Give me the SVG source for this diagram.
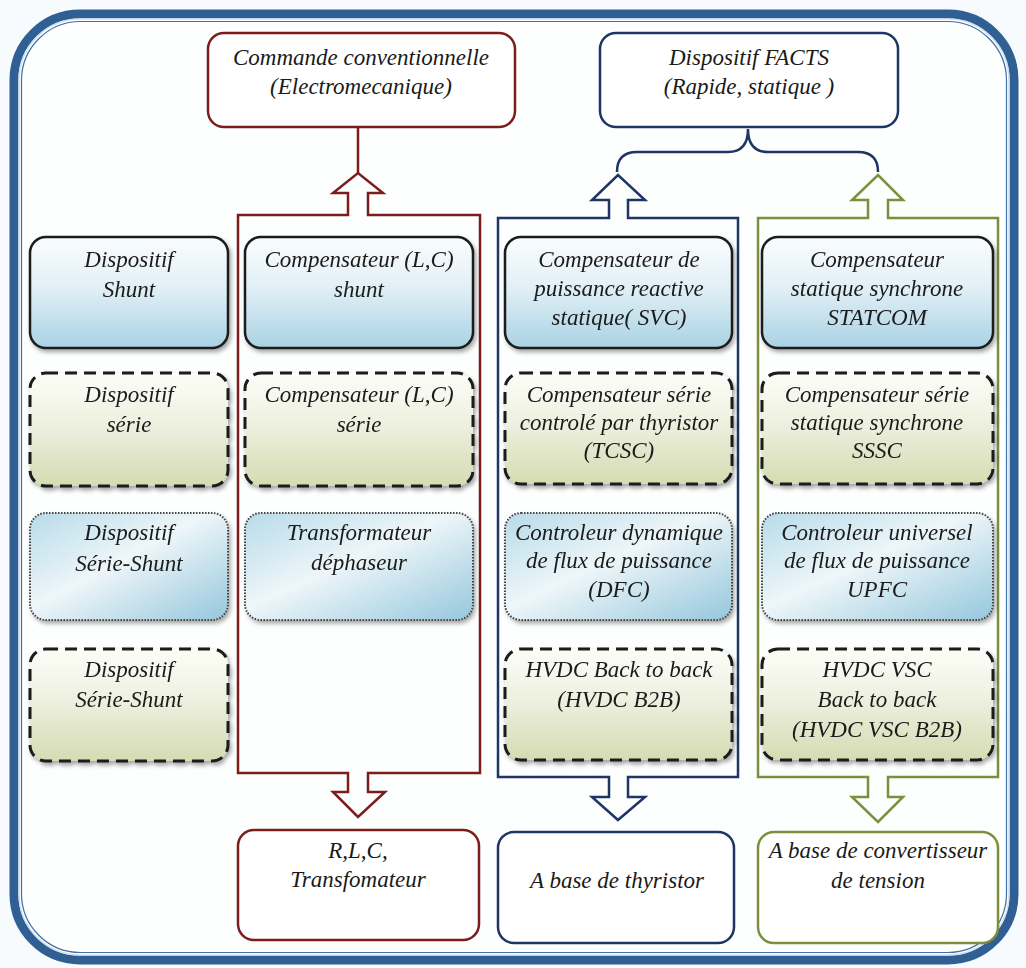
<svg xmlns="http://www.w3.org/2000/svg" width="1026" height="968" viewBox="0 0 1026 968">
<defs>
<linearGradient id="gBlue" x1="0" y1="0" x2="0" y2="1"><stop offset="0" stop-color="#fbfdfe"/><stop offset="0.45" stop-color="#e2f0f6"/><stop offset="1" stop-color="#a9d2e4"/></linearGradient>
<linearGradient id="gGreen" x1="0" y1="0" x2="0" y2="1"><stop offset="0" stop-color="#fdfdf8"/><stop offset="0.45" stop-color="#eef0e0"/><stop offset="1" stop-color="#d4dcb2"/></linearGradient>
<linearGradient id="gBlue2" x1="0" y1="0" x2="1" y2="1"><stop offset="0" stop-color="#b7dbe9"/><stop offset="0.45" stop-color="#eef6f9"/><stop offset="1" stop-color="#95c7dd"/></linearGradient>
<filter id="sh" x="-10%" y="-10%" width="125%" height="130%"><feDropShadow dx="2" dy="3" stdDeviation="2" flood-color="#000" flood-opacity="0.35"/></filter>
</defs>
<style>
text{font-family:"Liberation Serif","Times New Roman",serif;font-style:italic;font-size:23px;fill:#1a1a1a;text-anchor:middle}
.solid{fill:url(#gBlue);stroke:#1a1a1a;stroke-width:2.5}
.dash{fill:url(#gGreen);stroke:#1a1a1a;stroke-width:3;stroke-dasharray:12 7}
.dot{fill:url(#gBlue2);stroke:#444;stroke-width:2;stroke-dasharray:1.5 1.5}
.red{fill:none;stroke:#7d1c1c;stroke-width:2.5}
.blue{fill:none;stroke:#1f3566;stroke-width:2.5}
.green{fill:none;stroke:#7d8f3c;stroke-width:2.5}
.top{fill:#fff}
</style>
<rect width="1026" height="968" fill="#f7fbfd"/>
<g id="frame">
<rect x="14" y="14" width="1000" height="946" rx="66" fill="#fdfefe" stroke="#2f5f93" stroke-width="9"/>
<rect x="19" y="19" width="990" height="936" rx="61" fill="none" stroke="#cfe0ee" stroke-width="1.5"/>
<rect x="21.5" y="21.5" width="985" height="931" rx="59" fill="none" stroke="#3f6fa3" stroke-width="1.2"/>
</g>
<g id="connectors">
<line x1="358" y1="128" x2="358" y2="173" class="red"/>
<path class="red" d="M348,215 L348,193 L333,193 L358,173 L383,193 L368,193 L368,215 L480,215 L480,773 L368,773 L368,792 L385,792 L358,817 L333,792 L348,792 L348,773 L238,773 L238,215 Z"/>
<path class="blue" d="M617,172 Q617,152 637,152 L728,152 Q748,152 748,129 Q748,152 768,152 L858,152 Q878,152 878,172"/>
<path class="blue" d="M609,218 L609,200 L592,200 L618,175 L645,200 L628,200 L628,218 L738,218 L738,777 L628,777 L628,797 L645,797 L618,820 L592,797 L609,797 L609,777 L498,777 L498,218 Z"/>
<path class="green" d="M868,218 L868,200 L852,200 L878,175 L903,200 L888,200 L888,218 L998,218 L998,777 L888,777 L888,797 L903,797 L878,822 L852,797 L868,797 L868,777 L758,777 L758,218 Z"/>
</g>
<g id="commande">
<rect x="208" y="33" width="307" height="94" rx="16" class="top" stroke="#7d1c1c" stroke-width="2.5"/>
<text x="361" y="65">Commande conventionnelle</text>
<text x="361" y="94">(Electromecanique)</text>
</g>
<g id="facts">
<rect x="600" y="33" width="298" height="94" rx="16" class="top" stroke="#1f3566" stroke-width="2.5"/>
<text x="749" y="65">Dispositif FACTS</text>
<text x="749" y="94">(Rapide, statique )</text>
</g>
<g id="c1r1" filter="url(#sh)"><rect x="30" y="237" width="198" height="111" rx="16" class="solid"/><text x="129" y="267">Dispositif</text><text x="129" y="297">Shunt</text></g>
<g id="c1r2" filter="url(#sh)"><rect x="30" y="373" width="198" height="113" rx="16" class="dash"/><text x="129" y="402">Dispositif</text><text x="129" y="432">série</text></g>
<g id="c1r3" filter="url(#sh)"><rect x="30" y="513" width="198" height="107" rx="16" class="dot"/><text x="129" y="540">Dispositif</text><text x="129" y="571">Série-Shunt</text></g>
<g id="c1r4" filter="url(#sh)"><rect x="30" y="649" width="198" height="112" rx="16" class="dash"/><text x="129" y="677">Dispositif</text><text x="129" y="707">Série-Shunt</text></g>
<g id="c2r1" filter="url(#sh)"><rect x="245" y="237" width="228" height="111" rx="16" class="solid"/><text x="359" y="267">Compensateur (L,C)</text><text x="359" y="297">shunt</text></g>
<g id="c2r2" filter="url(#sh)"><rect x="245" y="373" width="228" height="113" rx="16" class="dash"/><text x="359" y="402">Compensateur (L,C)</text><text x="359" y="432">série</text></g>
<g id="c2r3" filter="url(#sh)"><rect x="245" y="513" width="228" height="107" rx="16" class="dot"/><text x="359" y="540">Transformateur</text><text x="359" y="570">déphaseur</text></g>
<g id="c3r1" filter="url(#sh)"><rect x="505" y="237" width="227" height="111" rx="16" class="solid"/><text x="619" y="267">Compensateur de</text><text x="619" y="296">puissance reactive</text><text x="619" y="325">statique( SVC)</text></g>
<g id="c3r2" filter="url(#sh)"><rect x="505" y="373" width="227" height="111" rx="16" class="dash"/><text x="619" y="402">Compensateur série</text><text x="619" y="430">controlé par thyristor</text><text x="619" y="458">(TCSC)</text></g>
<g id="c3r3" filter="url(#sh)"><rect x="505" y="513" width="227" height="107" rx="16" class="dot"/><text x="619" y="540">Controleur dynamique</text><text x="619" y="568">de flux de puissance</text><text x="619" y="597">(DFC)</text></g>
<g id="c3r4" filter="url(#sh)"><rect x="505" y="649" width="227" height="111" rx="16" class="dash"/><text x="619" y="677">HVDC Back to back</text><text x="619" y="707">(HVDC B2B)</text></g>
<g id="c4r1" filter="url(#sh)"><rect x="762" y="237" width="231" height="111" rx="16" class="solid"/><text x="877" y="267">Compensateur</text><text x="877" y="296">statique synchrone</text><text x="877" y="325">STATCOM</text></g>
<g id="c4r2" filter="url(#sh)"><rect x="762" y="373" width="231" height="111" rx="16" class="dash"/><text x="877" y="402">Compensateur série</text><text x="877" y="430">statique synchrone</text><text x="877" y="458">SSSC</text></g>
<g id="c4r3" filter="url(#sh)"><rect x="762" y="513" width="231" height="107" rx="16" class="dot"/><text x="877" y="540">Controleur universel</text><text x="877" y="568">de flux de puissance</text><text x="877" y="597">UPFC</text></g>
<g id="c4r4" filter="url(#sh)"><rect x="762" y="649" width="231" height="111" rx="16" class="dash"/><text x="877" y="677">HVDC VSC</text><text x="877" y="707">Back to back</text><text x="877" y="737">(HVDC VSC B2B)</text></g>
<g id="rlc">
<rect x="238" y="830" width="241" height="110" rx="16" class="top" stroke="#7d1c1c" stroke-width="2.5"/>
<text x="358" y="858">R,L,C,</text><text x="358" y="887">Transfomateur</text>
</g>
<g id="thyristor">
<rect x="498" y="832" width="236" height="111" rx="16" class="top" stroke="#1f3566" stroke-width="2.5"/>
<text x="617" y="888">A base de thyristor</text>
</g>
<g id="convertisseur">
<rect x="758" y="832" width="240" height="111" rx="16" class="top" stroke="#7d8f3c" stroke-width="2.5"/>
<text x="878" y="858">A base de convertisseur</text><text x="878" y="888">de tension</text>
</g>
</svg>
